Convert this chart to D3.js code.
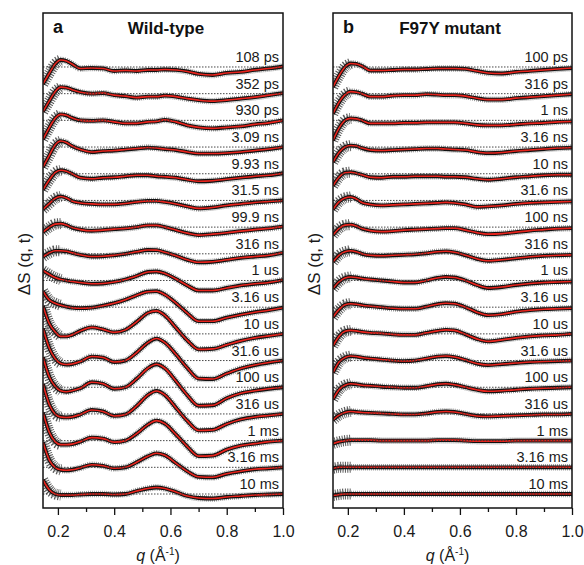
<!DOCTYPE html>
<html>
<head>
<meta charset="utf-8">
<script src="https://cdn.jsdelivr.net/npm/d3@7"></script>
<style>
  body { margin: 0; background: #fff; }
  svg { display: block; font-family: "Liberation Sans", Arial, sans-serif; }
</style>
</head>
<body>
<div id="chart"></div>
<script>
// q sampling points (Å^-1) shared by every curve
const qGrid = [0.147, 0.17, 0.19, 0.21, 0.23, 0.25, 0.28, 0.32, 0.36, 0.40, 0.44, 0.48,
	0.52, 0.55, 0.58, 0.62, 0.66, 0.70, 0.75, 0.80, 0.85, 0.90, 0.95, 1.0];

const xTicksMajor = [0.2, 0.4, 0.6, 0.8, 1.0];
const xTicksMinor = [0.3, 0.5, 0.7, 0.9];

const wtLabels = ["108 ps", "352 ps", "930 ps", "3.09 ns", "9.93 ns", "31.5 ns", "99.9 ns", "316 ns",
	"1 us", "3.16 us", "10 us", "31.6 us", "100 us", "316 us", "1 ms", "3.16 ms", "10 ms"];

const mutLabels = ["100 ps", "316 ps", "1 ns", "3.16 ns", "10 ns", "31.6 ns", "100 ns", "316 ns",
	"1 us", "3.16 us", "10 us", "31.6 us", "100 us", "316 us", "1 ms", "3.16 ms", "10 ms"];

// ΔS values (a.u.) on qGrid, one row per time delay
const wtCurves = [
	[-17, -6, 3, 7, 6, 3, -1.5, -1, -1.5, -4, -3.5, -4, -3, -3, -2.5, -3, -4.5, -7, -8, -6, -5, -3, -1.5, 0.5],
	[-18, -7, 2, 6.5, 6, 4, 1.5, 0, 0.5, -1.5, -2.5, -4, -3, -3, -2, -3, -5, -6.5, -7.5, -6.5, -5, -3.5, -1.5, 0.5],
	[-19, -7, 2, 6, 5, 2.5, 0, -0.5, 0, -1.5, -3, -3, -1.5, -1, 0.5, -1.5, -5, -7, -8, -7, -6, -4, -2.5, 0],
	[-20, -8, 2, 6, 4.5, 1, -2.5, -5, -4, -3.5, -2.5, -1.5, -0.5, -1, -2, -3, -5, -6.5, -6.5, -6, -5, -3.5, -2, 0],
	[-16, -6, 1, 3.5, 2.5, 0, -4, -5, -4, -3.5, -2.5, -1.5, -1.5, -2.5, -3, -4, -6, -7.5, -7, -5.5, -4, -2.5, -1.5, 0.5],
	[-9, -3, 2, 4, 2.5, -0.5, -2.5, -3.5, -4, -4, -3, -1.5, -0.5, -0.5, -1.5, -3.5, -6, -8, -7, -5, -3.5, -2, -1, 0],
	[-5, 0, 3, 3.5, 2, -0.5, -2.5, -3.7, -3, -2, -1.3, 0, 1.7, 1.7, 0, -3, -6, -8, -7, -5.7, -4, -2.5, -1.3, 0.5],
	[-3, 1, 3, 3, 2.5, 1, -1, -2.7, -2.5, -1.5, 0, 2, 3.8, 3.7, 1.5, -2, -6, -8.5, -8, -6, -4, -2.7, -1.5, 1],
	[10, 6, 3, 1, 0, -1, -2, -3.3, -3, -1.5, 1, 4.5, 8.5, 9, 7, 1.5, -5, -10, -10, -7.5, -5, -3.3, -2, 0.5],
	[16, 7, 4, 2, 0.5, -0.5, -1, -0.5, 1.5, 4, 7.5, 12, 15.5, 16, 12.5, 4, -6, -14, -14, -10.5, -7.5, -5, -3, -0.5],
	[28, 10, 2, -2.5, -2.5, -1, 3, 6.5, 4.5, 1.5, 4, 12, 21, 23, 18.5, 6, -6.5, -15.5, -15, -11, -7, -4, -2, 0],
	[32, 12, 2, -3, -4, -3.5, -1, 4, 3, -1.5, 0, 8, 18, 22, 18, 6, -7.5, -18, -18.5, -13, -8, -4.5, -2, 0],
	[30, 10, 1, -3.5, -4.5, -3.5, -1, 5, 3.5, -1.5, 0, 8.5, 19, 23, 19, 6, -8, -18.5, -18, -11, -6, -3.5, -1.5, 0],
	[30, 9, 0, -3, -3.5, -3, -0.5, 4, 2.5, -2, -0.5, 8, 19, 23, 19, 6, -7, -16.5, -16, -10, -5.5, -3, -1.5, 0],
	[28, 8, -1, -4, -4, -3.5, -1, 3, 2, -1.5, 0, 7, 16, 20, 17, 6, -6, -15.5, -15, -9, -5, -3, -1, 0],
	[25, 7, 0, -2.5, -3, -2.5, -0.5, 2.5, 1.5, -1, 0, 5, 11, 14, 12, 4, -4, -9.5, -10, -6.5, -4, -2, -1, 0],
	[14, 4, 0, -1, -1, -1, -0.5, 0, 0, -0.5, 0, 3, 5.5, 6.5, 5.5, 2, -2, -4, -4.5, -3, -2, -1, -0.5, 0]
];

const mutCurves = [
	[-20, -8, 0, 3.5, 3, 1, -3.5, -3.5, -3, -2.5, -2.5, -2, -1.5, -1.5, -1.5, -2, -4, -6, -6.5, -5, -4, -3, -2, -1],
	[-20, -8, -1, 2, 1.5, 0, -3, -3, -2, -1.5, -1.5, -0.5, -1, -1.5, -1.5, -2.5, -4.5, -6, -6, -4.5, -3.5, -2.5, -1.5, -0.5],
	[-20, -7, 0, 2, 1.5, 0, -3, -3, -3, -2.5, -2.5, -2, -2, -2, -2, -3, -4.5, -5, -5, -4, -3, -2.5, -1.5, -1],
	[-15, -5, 0, 1.5, 1, -1, -3, -3.5, -3, -2.5, -2, -1.5, -1.5, -2, -2.5, -3, -5, -6, -5.5, -4, -3, -2, -1, -0.5],
	[-12, -3, 1, 1.5, 0.5, -1, -3.5, -4, -3, -3, -2.5, -2.5, -2.5, -3, -3, -3.5, -5, -6, -5, -3.5, -2.5, -1.5, -1, -1],
	[-9, -1, 2.5, 3.5, 1.5, -2, -4, -5, -4.5, -4, -3.5, -3, -2.5, -2, -2.5, -4, -6.5, -6, -5, -3.5, -2.5, -2, -1.5, -1],
	[-8, -1, 2, 2.5, 1, -1.5, -3.5, -4.5, -4, -3, -2.5, -2, -1.5, -1, -1, -3, -5.5, -7, -6.5, -5, -3.5, -2.5, -1.5, -1],
	[-8, -1, 2, 3, 2, 0, -1.5, -2, -1.5, -1, -0.5, 0.5, 2, 2.5, 1.5, -1.5, -5, -7, -6, -4.5, -3, -2, -1.5, -1],
	[-8, -1, 2.5, 3.5, 3, 2, 1, 0, -1, -2, -2, 0, 2.5, 3.5, 3, 0, -4.5, -7.5, -6.5, -4.5, -3, -2, -1.5, -1],
	[-10, -2, 2.5, 3.5, 3, 2, 1, 0, -1, -1.5, -1.5, 0.5, 3, 4, 3.5, 0, -5, -8, -7, -4.5, -3, -2, -1.5, -1],
	[-12, -2, 2.5, 3.5, 3, 2, 1, 0.5, -0.5, -1, -1, 1, 3, 4, 3.5, -0.5, -5, -7.5, -6, -4, -2.5, -1.5, -1, 0],
	[-12, -1, 3, 4.5, 4, 3, 2, 1, 0, -0.5, 0, 2, 4, 4.5, 3.5, 0.5, -3, -4.5, -3.5, -2.5, -1.5, -1, -0.5, 0],
	[-12, -2, 2, 3.5, 3, 2, 1.5, 0.5, 0, -0.5, -0.5, 1, 3, 3.5, 2.5, 0, -2.5, -4, -3.5, -2.5, -1.5, -1, -0.5, 0],
	[-6, -1, 1.5, 2.5, 2, 1.5, 1, 0.5, 0, -0.5, -0.5, 0.5, 2, 2.5, 2, 0, -2, -2.5, -2, -1.5, -1, -0.5, -0.5, 0],
	[-3, -1, 0, 0.5, 0.5, 0.5, 0.5, 0, 0, 0, 0, 0, 0.5, 0.5, 0.5, 0, -0.5, -0.5, -0.5, 0, 0, 0, 0, 0],
	[-1, 0, 0, 0, 0, 0, 0, 0, 0, 0, 0, 0, 0, 0, 0, 0, 0, 0, 0, 0, 0, 0, 0, 0],
	[-1.5, -0.5, 0, 0, 0, 0, 0, 0, 0, 0, 0, 0, 0, 0, 0, 0, 0, 0, 0, 0, 0, 0, 0, 0]
];

const OFFSET = 26.7; // vertical shift between successive delays (a.u.)
const STEEP_Q = 0.21; // low-q part where the error bars are large

const W = 584, H = 565;
const TOP = 13, BOTTOM = 508;

const panels = [
	{ id: "a", title: "Wild-type", left: 43, right: 283, titleX: 166, ylabX: 30, labels: wtLabels, curves: wtCurves },
	{ id: "b", title: "F97Y mutant", left: 333, right: 572, titleX: 450, ylabX: 320, labels: mutLabels, curves: mutCurves }
];

const svg = d3.select("#chart").append("svg").attr("width", W).attr("height", H);

const y = d3.scaleLinear()
	.domain([-(mutCurves.length - 1) * OFFSET - 14, 54])
	.range([BOTTOM, TOP]);

panels.forEach((p) => {
	const x = d3.scaleLinear().domain([0.147, 1.0]).range([p.left, p.right]);
	const g = svg.append("g");

	const clipId = "clip-" + p.id;
	svg.append("clipPath").attr("id", clipId)
		.append("rect")
		.attr("x", p.left).attr("y", TOP)
		.attr("width", p.right - p.left).attr("height", BOTTOM - TOP);

	const plot = g.append("g").attr("clip-path", `url(#${clipId})`);

	const series = p.curves.map((vals, k) => ({
		k,
		label: p.labels[k],
		pts: vals.map((v, i) => ({ q: qGrid[i], v: v - k * OFFSET }))
	}));

	const line = d3.line()
		.x((d) => x(d.q))
		.y((d) => y(d.v))
		.curve(d3.curveMonotoneX);

	const layers = plot.selectAll("g.series").data(series).join("g").attr("class", "series");

	// error bars, drawn as a ragged band round the data
	layers.append("path")
		.attr("d", (s) => line(s.pts))
		.attr("fill", "none")
		.attr("stroke", "#9a9a9a")
		.attr("stroke-width", 6.5)
		.attr("stroke-dasharray", "1,1");

	layers.append("path")
		.attr("d", (s) => line(s.pts.filter((d) => d.q <= STEEP_Q)))
		.attr("fill", "none")
		.attr("stroke", "#5a5a5a")
		.attr("stroke-width", 11)
		.attr("stroke-dasharray", "1,1.4");

	// data
	layers.append("path")
		.attr("d", (s) => line(s.pts))
		.attr("fill", "none")
		.attr("stroke", "#111")
		.attr("stroke-width", 3.8);

	// fit
	layers.append("path")
		.attr("d", (s) => line(s.pts))
		.attr("fill", "none")
		.attr("stroke", "#e8231c")
		.attr("stroke-width", 1.6);

	// zero lines on top
	plot.selectAll("line.zero").data(series).join("line")
		.attr("class", "zero")
		.attr("x1", p.left).attr("x2", p.right)
		.attr("y1", (s) => y(-s.k * OFFSET)).attr("y2", (s) => y(-s.k * OFFSET))
		.attr("stroke", "#333")
		.attr("stroke-width", 0.9)
		.attr("stroke-dasharray", "1.5,1.5");

	// delay labels
	g.selectAll("text.delay").data(series).join("text")
		.attr("class", "delay")
		.attr("x", p.right - 4)
		.attr("y", (s) => y(-s.k * OFFSET) - 5)
		.attr("text-anchor", "end")
		.attr("font-size", 14.5)
		.attr("fill", "#1a1a1a")
		.text((s) => s.label);

	// frame
	g.append("rect")
		.attr("x", p.left).attr("y", TOP)
		.attr("width", p.right - p.left).attr("height", BOTTOM - TOP)
		.attr("fill", "none")
		.attr("stroke", "#111")
		.attr("stroke-width", 1.5);

	// x axis
	const axMajor = g.append("g")
		.attr("transform", `translate(0,${BOTTOM})`)
		.call(d3.axisBottom(x).tickValues(xTicksMajor).tickFormat(d3.format(".1f"))
			.tickSize(7).tickSizeOuter(0).tickPadding(11));
	axMajor.select(".domain").remove();
	axMajor.selectAll("line").attr("stroke", "#111").attr("stroke-width", 1.3);
	axMajor.selectAll("text").attr("font-size", 16).attr("fill", "#1a1a1a")
		.attr("font-family", '"Liberation Sans", Arial, sans-serif');

	const axMinor = g.append("g")
		.attr("transform", `translate(0,${BOTTOM})`)
		.call(d3.axisBottom(x).tickValues(xTicksMinor).tickFormat("").tickSize(4).tickSizeOuter(0));
	axMinor.select(".domain").remove();
	axMinor.selectAll("line").attr("stroke", "#111").attr("stroke-width", 1.3);

	// x label
	const xl = g.append("text")
		.attr("x", (p.left + p.right) / 2 - 5)
		.attr("y", 561)
		.attr("text-anchor", "middle")
		.attr("font-size", 16)
		.attr("fill", "#1a1a1a");
	xl.append("tspan").attr("font-style", "italic").text("q");
	xl.append("tspan").text(" (Å");
	xl.append("tspan").attr("font-size", 10).attr("dy", -6).text("-1");
	xl.append("tspan").attr("dy", 6).text(")");

	// y label
	g.append("text")
		.attr("transform", `translate(${p.ylabX},264) rotate(-90)`)
		.attr("text-anchor", "middle")
		.attr("font-size", 17)
		.attr("fill", "#1a1a1a")
		.text("ΔS (q, t)");

	// panel tag and title
	g.append("text")
		.attr("x", p.left + 10).attr("y", 33)
		.attr("font-size", 18).attr("font-weight", "bold")
		.attr("fill", "#111")
		.text(p.id);

	g.append("text")
		.attr("x", p.titleX).attr("y", 34)
		.attr("text-anchor", "middle")
		.attr("font-size", 17).attr("font-weight", "bold")
		.attr("fill", "#111")
		.text(p.title);
});
</script>
</body>
</html>
